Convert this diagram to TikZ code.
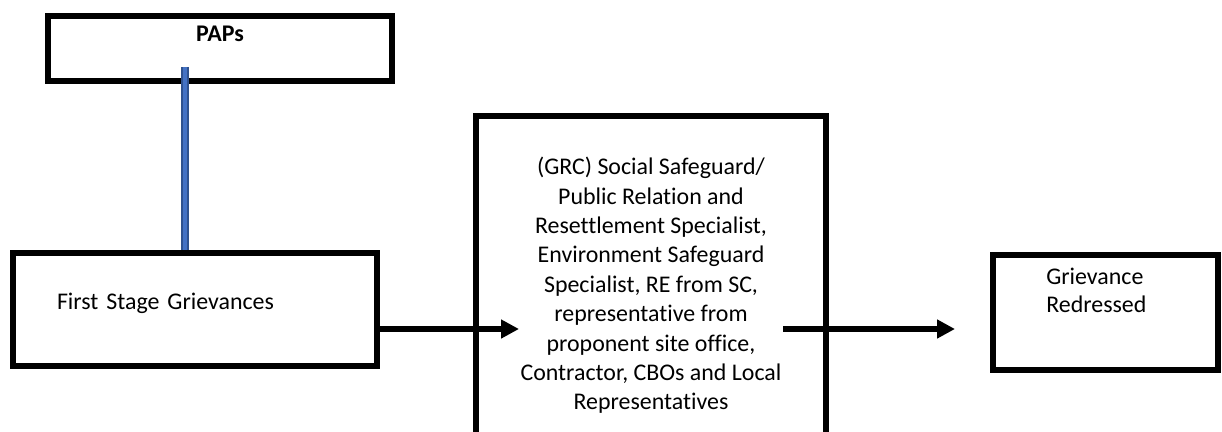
\documentclass[tikz,border=0pt]{standalone}
\usepackage{fontspec}
\setmainfont{Carlito}[Ligatures=NoCommon]
\usepackage{xcolor}
\usetikzlibrary{arrows.meta,calc}
\definecolor{pipeFill}{HTML}{4472C4}
\definecolor{pipeEdge}{HTML}{2F528F}

\begin{document}
\begin{tikzpicture}[>=Latex,box/.style={draw,line width=4.2pt,fill=white,font=\fontsize{17}{20.9}\selectfont},flow/.style={-{Triangle[length=0.45cm,width=0.45cm]},line width=3.6pt},pipe/.style={draw=pipeEdge,double=pipeFill,double distance=3pt,line width=1.1pt}]
\useasboundingbox (0,0) rectangle (30.55,-10.8);
\clip (0,0) rectangle (30.55,-10.8);
\node[box,minimum width=8.6cm,minimum height=1.625cm,text height=0.4cm,text depth=0.725cm,font=\fontsize{17}{20.9}\selectfont\bfseries] (paps) at (5.5,-1.2125) {PAPs};
\node[box,minimum width=9.1cm,minimum height=2.825cm,text width=6.9cm,inner xsep=1.1cm,align=left,text height=0.4cm,text depth=0.4cm] (first) at (4.875,-7.7375) {First Stage Grievances};
\node[box,minimum width=8.75cm,minimum height=8.475cm,align=center] (grc) at (16.275,-7.1375) {(GRC) Social Safeguard/\\Public Relation and\\Resettlement Specialist,\\Environment Safeguard\\Specialist, RE from SC,\\representative from\\proponent site office,\\Contractor, CBOs and Local\\Representatives};
\node[box,minimum width=5.625cm,minimum height=2.875cm] (redress) at (27.6375,-7.8125) {};
\node[anchor=north west,align=left,inner sep=0pt,font=\fontsize{17}{19.9}\selectfont] (redressText) at (26.15,-6.7) {Grievance\\Redressed};
% connectors
\coordinate (papsFoot) at (4.625,-1.675);
\coordinate (grcIn) at (12.975,-8.225);
\coordinate (grcOut) at (19.575,-8.225);
\coordinate (redressIn) at (23.875,-8.225);
\draw[pipe] (papsFoot) -- (papsFoot |- first.north);
\draw[flow] (first.east |- grcIn) -- (grcIn);
\draw[flow] (grcOut) -- (redressIn);
\end{tikzpicture}
\end{document}
